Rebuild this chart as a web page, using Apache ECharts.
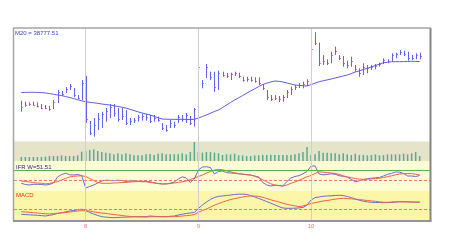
<!DOCTYPE html>
<html><head><meta charset="utf-8">
<script src="https://cdn.jsdelivr.net/npm/echarts@6/dist/echarts.min.js"></script>
<style>html,body{margin:0;padding:0;background:#fff}#c{width:450px;height:250px}</style>
</head><body><div id="c"></div>
<script>
const monthTickIdx = [16, 44, 72];
const monthLabels = ['8', '9', '10'];

const high = [36825,36775,36745,36775,36745,36660,36610,36560,36860,37360,
37310,37510,37660,37460,37110,37860,38060,35810,35960,36210,
36275,36460,36660,36660,36460,36460,36360,35960,35960,36110,
36160,36160,36110,36110,36025,35710,35610,35860,35775,36110,
36110,36210,36060,36460,38760,37860,38660,38275,38275,38325,
38275,38210,38225,38275,38225,38025,38025,38025,37995,37995,
37660,37360,37110,37110,37060,37110,37360,37525,37610,37710,
37775,37895,39525,40245,39725,39110,38895,39275,39525,39110,
39060,38825,39025,38610,38445,38695,38610,38610,38660,38725,
38945,38895,39195,39225,39360,39325,39275,39110,39195,39225];
const low = [36275,36525,36575,36575,36495,36410,36410,36325,36410,36710,
37060,37210,37360,37010,36910,36860,35710,35110,35025,35360,
35460,35775,35960,36025,35775,35860,35610,35610,35710,35775,
35825,35825,35710,35775,35775,35360,35275,35460,35460,35710,
35775,35710,35610,35525,36610,37445,37960,37860,37275,37360,
38025,37960,37860,38060,37960,37775,37775,37775,37725,37610,
37360,36860,36810,36860,36760,36775,36960,37110,37360,37460,
37445,37560,38695,39610,38560,38610,38610,38695,39110,38860,
38525,38445,38525,38275,38025,38110,38195,38360,38395,38525,
38660,38695,38775,38945,39110,39060,38825,38860,38895,38895];
const close = [36500,36600,36650,36620,36560,36480,36470,36400,36780,37250,
37150,37420,37550,37100,36980,37700,35900,35200,35600,35900,
36150,36300,36500,36200,35900,36050,35700,35800,35850,36000,
36050,36000,35800,35950,35850,35450,35350,35700,35600,36000,
35900,36100,35700,36400,38500,37700,38500,38000,37500,38200,
38100,38050,38150,38200,38050,37850,37900,37850,37800,37700,
37450,37000,36900,36950,36900,37000,37250,37400,37500,37600,
37650,37800,39400,39700,38700,38800,38700,39100,39300,38950,
38700,38600,38800,38400,38200,38500,38450,38500,38550,38650,
38850,38800,39100,39150,39250,39150,38950,38950,39100,39050];
const ma20 = [37235,37240,37245,37245,37240,37230,37210,37180,37150,37110,
37080,37035,36985,36930,36875,36820,36775,36745,36720,36690,
36660,36635,36610,36575,36535,36500,36460,36395,36335,36270,
36210,36160,36110,36040,35970,35910,35900,35895,35890,35890,
35895,35890,35885,35895,35960,36035,36110,36200,36285,36360,
36485,36610,36735,36860,36970,37085,37200,37310,37420,37530,
37635,37700,37760,37810,37795,37760,37710,37660,37610,37590,
37570,37560,37630,37700,37775,37820,37865,37910,37960,38010,
38060,38110,38185,38260,38320,38385,38445,38515,38585,38655,
38725,38750,38775,38775,38775,38780,38790,38795,38790,38777.51];
const volume = [120,120,120,120,120,120,130,150,150,150,
170,150,150,150,170,280,300,330,350,300,
270,250,230,200,230,200,230,200,170,170,
170,200,210,180,220,230,200,200,200,200,
230,200,270,570,270,250,270,270,250,230,
180,200,200,220,170,170,150,150,170,170,
180,180,190,180,180,180,180,180,200,230,
270,420,180,200,300,250,250,230,230,200,
230,200,180,220,180,180,170,180,200,170,
180,200,200,200,200,220,200,230,270,150];
const ifr = [25.7,21.7,20,22.3,22.3,21.7,20,21.7,26.7,46.7,
55,59,54,53.3,55,51.7,10,15,20,26.7,
33.3,36,35,34.3,36,35,31.7,33.3,34.3,32.3,
31,31,31,27.3,25,23.3,24,26,30,40,
47.3,43.3,28.3,40,70,80,80.7,78.3,56.7,65,
66.7,61.3,60,58.7,57.3,56,54.3,53,50,46.7,
28.3,20,16.7,19,18.3,16.7,31.7,43.3,48.3,51.3,
57.3,65,83.3,83.3,56.7,54,55,57.3,55.7,51,
48.7,46.7,38.3,31,34,37.3,40.7,42.7,44,45.3,
50,55.3,59,63.3,62.7,58.3,50,50,48.3,51.51];
const ifrSignal = [33.3,31.7,30,28,26.7,25.7,24,25,28.3,31,
36.7,41.7,46.7,49,50.3,50.7,48.3,41.7,35,28.3,
25.7,25.7,25.7,26.7,27.3,28,29,30,31,32.3,
32.7,31.7,28.3,26.7,25,23.7,23.3,25,26.7,29,
30.7,33.3,38.3,43.3,48.3,53.3,60,65,70,71.7,
70.7,67.3,64,60.7,58,56,54.7,53.3,49.3,44,
37.3,30.7,24,20,18.3,16.7,20,25.7,30,35.7,
41.7,47.3,51.7,58.3,64,62.7,61.3,60,58.3,55,
50.7,46.7,44,41.7,39.3,39,39.7,40,41.3,42.7,
45,48,50.7,54,56.7,57.7,58.3,58,55.7,53.3];
const macd = [-212,-224,-232,-240,-252,-264,-280,-252,-220,-180,
-152,-112,-80,-60,-32,-8,-60,-140,-200,-260,
-308,-324,-340,-348,-336,-332,-324,-320,-312,-308,
-308,-308,-280,-292,-304,-308,-308,-292,-280,-240,
-208,-180,-160,-140,20,160,280,380,460,504,
524,540,560,580,592,596,580,540,480,420,
360,296,232,168,96,40,28,28,32,44,
64,152,360,456,480,508,520,528,540,552,
536,500,456,400,348,312,284,268,260,256,
252,256,264,280,288,288,284,276,272,268];
const macdSignal = [-108,-120,-132,-148,-160,-176,-192,-200,-184,-168,
-156,-144,-120,-100,-80,-68,-68,-80,-112,-140,
-160,-180,-200,-224,-240,-260,-280,-296,-308,-312,
-316,-320,-312,-308,-308,-308,-308,-308,-308,-296,
-280,-264,-252,-220,-132,-60,0,72,152,216,
272,328,380,416,448,480,508,520,520,500,
468,416,368,324,280,232,188,156,124,96,
120,168,220,252,288,320,340,368,392,416,
428,416,404,392,376,360,340,324,308,288,
272,268,280,288,292,292,288,284,280,280];

const ifrUpper = 70, ifrLower = 37, macdZero = 0;

const pairs = a => a.map((v, i) => [i, v]);
const X0 = -1.814, X1 = 101.561;
const font = '"Liberation Sans", Arial, sans-serif';

const gridDefs = [
  {top: 29, height: 112.5, bg: '#ffffff'},
  {top: 141.5, height: 19.5, bg: '#e6e4c8'},
  {top: 161, height: 30, bg: '#fefcd4'},
  {top: 191, height: 29.5, bg: '#fcf7a8'},
  {top: 28, height: 192.5, bg: null}
];
const grid = gridDefs.map(g => ({
  left: 14, right: 20, top: g.top, height: g.height,
  show: !!g.bg, backgroundColor: g.bg || 'transparent', borderWidth: 0
}));
const xAxis = gridDefs.map((g, i) => ({
  type: 'value', gridIndex: i, min: X0, max: X1,
  show: i === 4,
  axisLine: {show: false}, axisTick: {show: false}, splitLine: {show: false},
  axisLabel: {
    show: i === 4,
    customValues: monthTickIdx,
    formatter: v => monthLabels[monthTickIdx.indexOf(Math.round(v))] || '',
    color: '#f07878', fontSize: 6, fontFamily: font, margin: 3
  }
}));
const yr = [[34785, 40410], [0, 585], [0, 100], [-460, 720], [0, 1]];
const yAxis = yr.map((r, i) => ({
  type: 'value', gridIndex: i, min: r[0], max: r[1], show: false,
  splitLine: {show: false}
}));

const chart = echarts.init(document.getElementById('c'), null, {renderer: 'canvas'});
chart.setOption({
  animation: false,
  backgroundColor: '#ffffff',
  grid, xAxis, yAxis,
  series: [
    {
      type: 'line', xAxisIndex: 4, yAxisIndex: 4, z: 1,
      data: [[0, 0.5]], symbol: 'none', lineStyle: {opacity: 0},
      markLine: {
        silent: true, symbol: 'none', label: {show: false},
        lineStyle: {color: '#d0d0d0', type: 'solid', width: 1},
        data: monthTickIdx.map(v => ({xAxis: v}))
      }
    },
    {
      type: 'custom', xAxisIndex: 0, yAxisIndex: 0,
      data: high.map((h, i) => [i, low[i], h, close[i]]),
      encode: {x: 0, y: [1, 2]},
      renderItem: (params, api) => {
        const x = api.value(0);
        const lo = api.coord([x, api.value(1)]);
        const hi = api.coord([x, api.value(2)]);
        const cl = api.coord([x, api.value(3)]);
        const px = Math.round(lo[0]) + 0.5;
        return {type: 'group', children: [
          {type: 'line', shape: {x1: px, y1: lo[1], x2: px, y2: hi[1]}, style: {stroke: '#6262f2', lineWidth: 1}},
          {type: 'rect', shape: {x: px + 0.5, y: Math.round(cl[1]), width: 1, height: 1}, style: {fill: '#f060f0'}}
        ]};
      }
    },
    {
      type: 'line', xAxisIndex: 0, yAxisIndex: 0, data: pairs(ma20),
      symbol: 'none', lineStyle: {color: '#5c5ce0', width: 1}
    },
    {
      type: 'bar', xAxisIndex: 1, yAxisIndex: 1, data: pairs(volume),
      barWidth: 1.5, itemStyle: {color: '#5aaa94'}
    },
    {
      type: 'line', xAxisIndex: 2, yAxisIndex: 2, data: pairs(ifr),
      symbol: 'none', lineStyle: {color: '#6a6ad6', width: 1},
      markLine: {
        silent: true, symbol: 'none', label: {show: false},
        data: [
          {yAxis: ifrUpper, lineStyle: {color: '#5cb04c', type: 'solid', width: 1}},
          {yAxis: ifrLower, lineStyle: {color: '#f47a66', type: [3, 2], width: 1}}
        ]
      }
    },
    {
      type: 'line', xAxisIndex: 2, yAxisIndex: 2, data: pairs(ifrSignal),
      symbol: 'none', lineStyle: {color: '#f0604c', width: 1}
    },
    {
      type: 'line', xAxisIndex: 3, yAxisIndex: 3, data: pairs(macd),
      symbol: 'none', lineStyle: {color: '#6a6ad6', width: 1},
      markLine: {
        silent: true, symbol: 'none', label: {show: false},
        data: [{yAxis: macdZero, lineStyle: {color: '#f47a66', type: [3, 2], width: 1}}]
      }
    },
    {
      type: 'line', xAxisIndex: 3, yAxisIndex: 3, data: pairs(macdSignal),
      symbol: 'none', lineStyle: {color: '#f0604c', width: 1}
    }
  ],
  graphic: [
    {type: 'line', z: 100, shape: {x1: 13, y1: 28, x2: 431, y2: 28}, style: {stroke: '#a4a4a4', lineWidth: 1.5}},
    {type: 'line', z: 100, shape: {x1: 13.5, y1: 28, x2: 13.5, y2: 221}, style: {stroke: '#a4a4a4', lineWidth: 1.5}},
    {type: 'line', z: 100, shape: {x1: 430.5, y1: 28, x2: 430.5, y2: 221.5}, style: {stroke: '#858585', lineWidth: 2}},
    {type: 'line', z: 100, shape: {x1: 13, y1: 221, x2: 431.5, y2: 221}, style: {stroke: '#959595', lineWidth: 2}},
    {type: 'text', z: 100, left: 15, top: 30, style: {text: 'M20 = ' + ma20[ma20.length - 1], fill: '#3a3ad0', font: '6px ' + font}},
    {type: 'text', z: 100, left: 16, top: 164.5, style: {text: 'IFR W=' + ifr[ifr.length - 1], fill: '#2a2a8a', font: '6px ' + font}},
    {type: 'text', z: 100, left: 16, top: 192.5, style: {text: 'MACD', fill: '#ff2a2a', font: '6px ' + font}}
  ]
});
</script></body></html>
